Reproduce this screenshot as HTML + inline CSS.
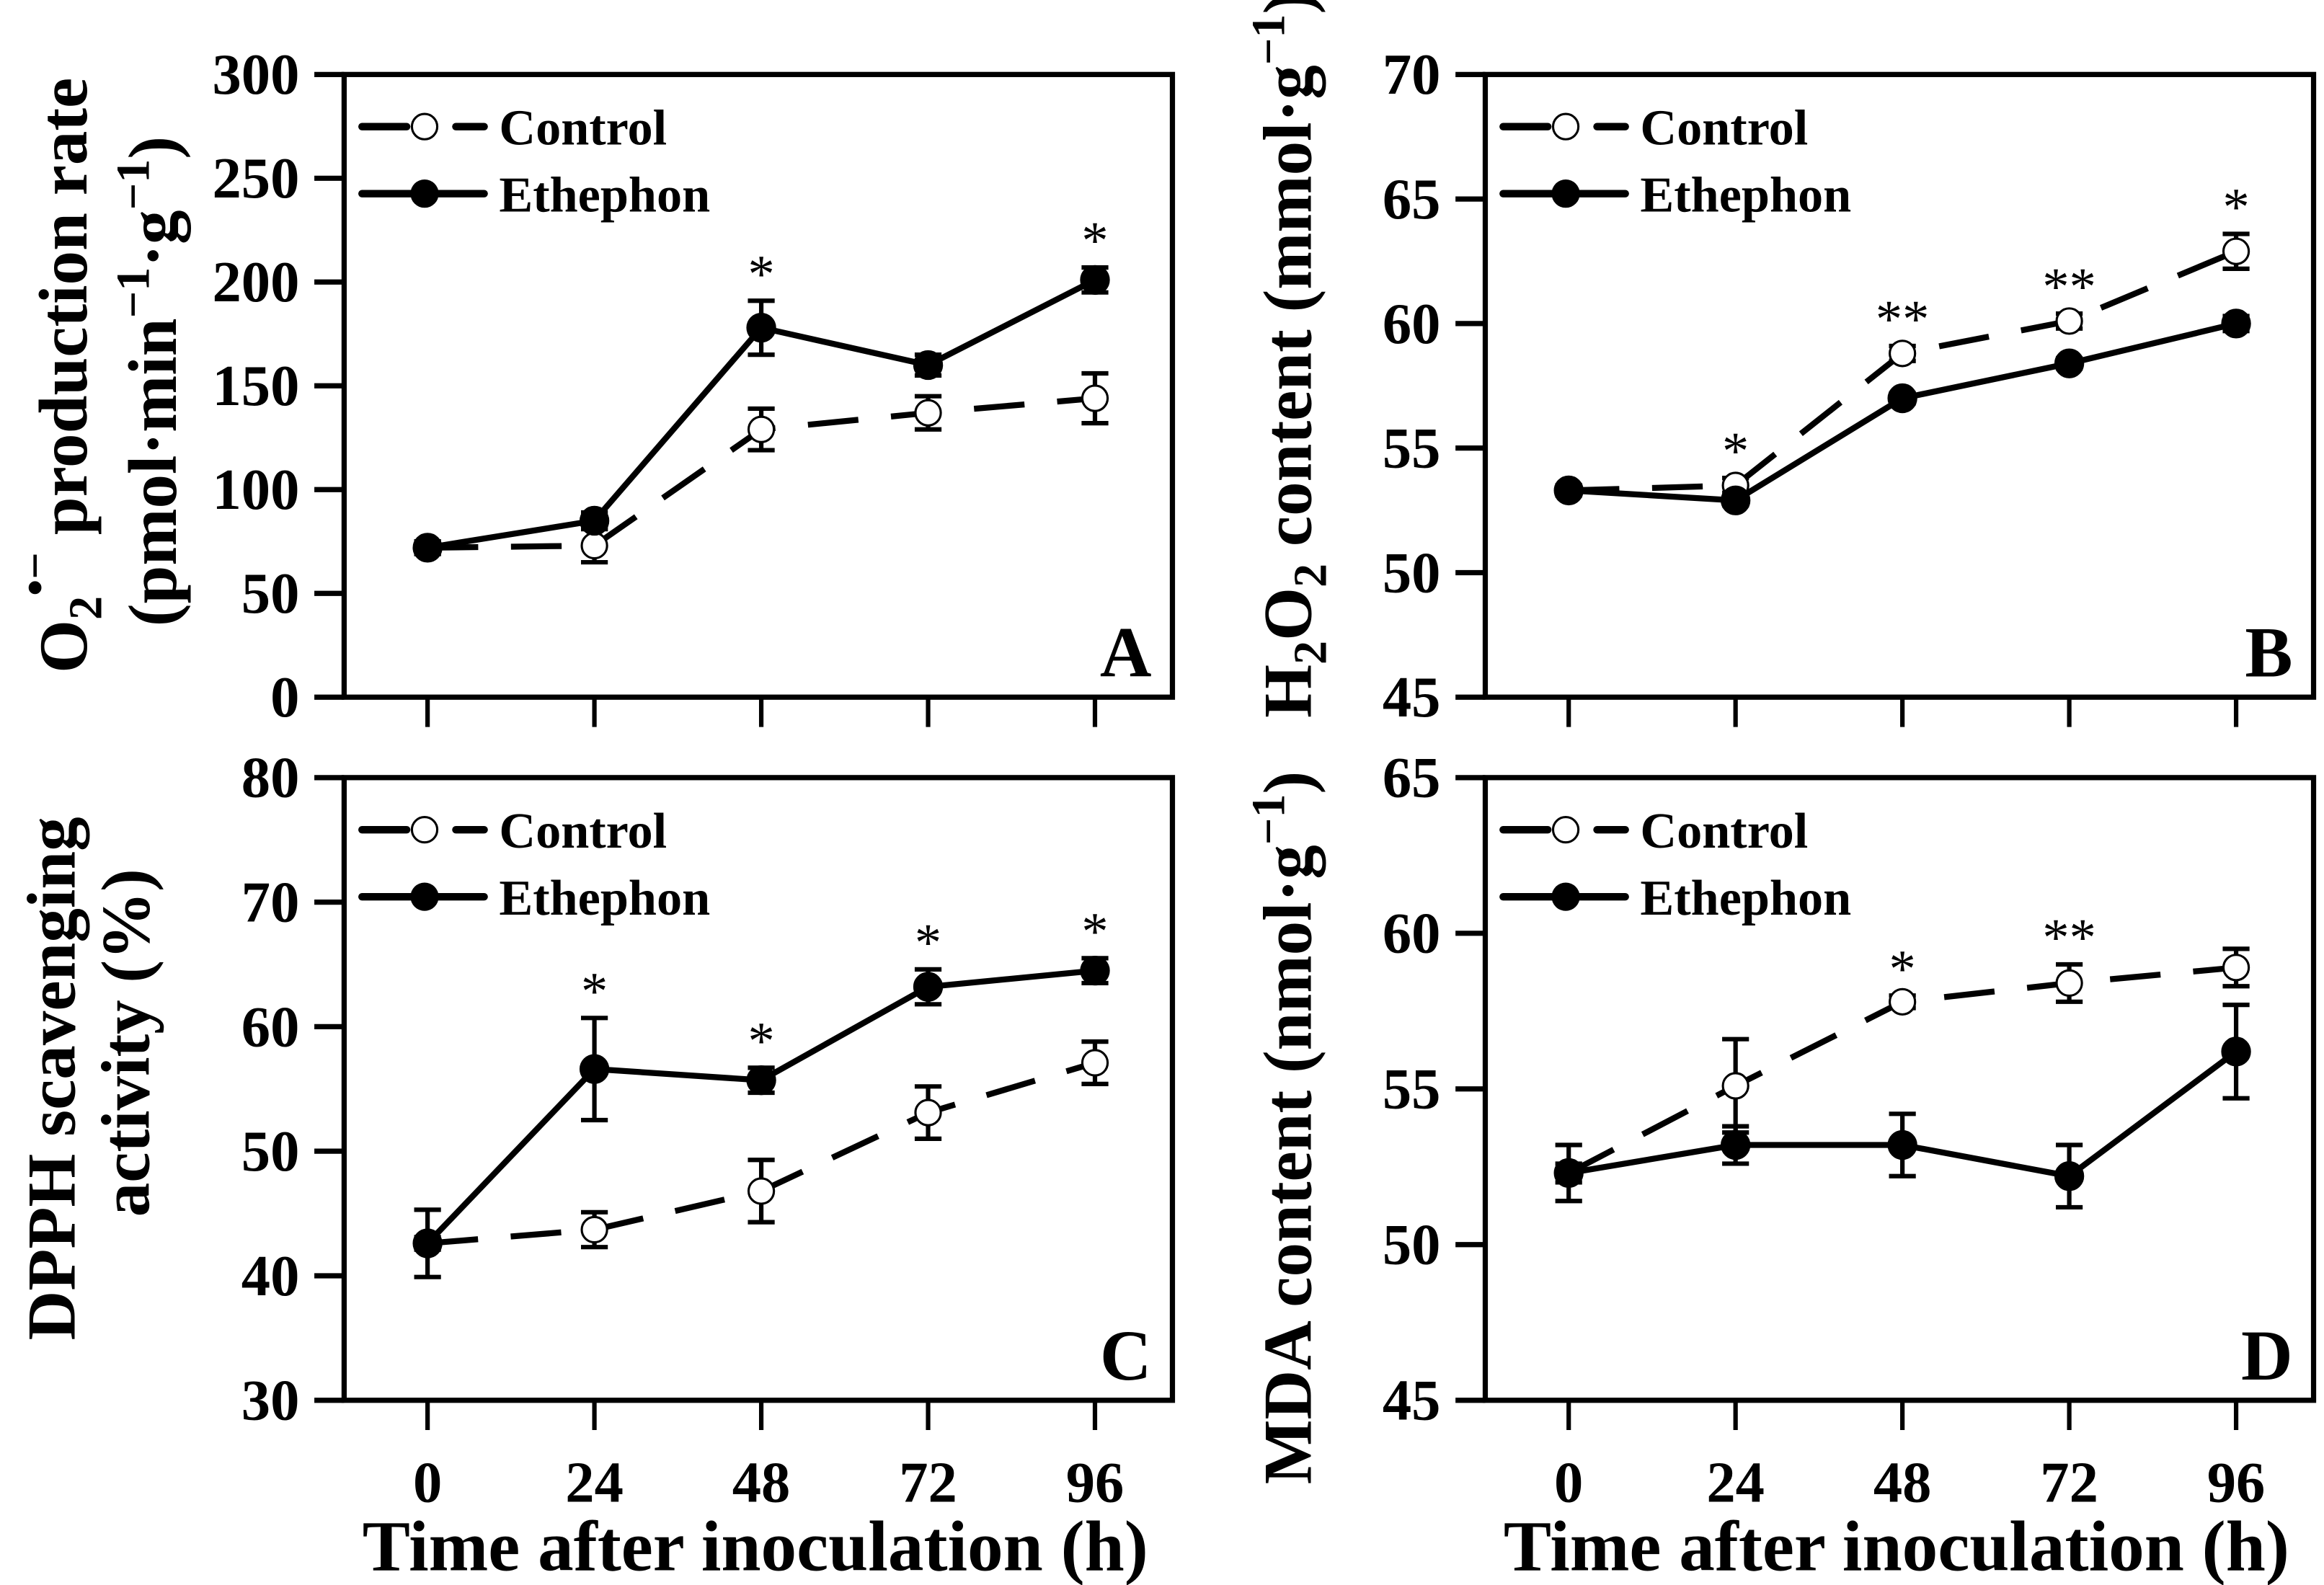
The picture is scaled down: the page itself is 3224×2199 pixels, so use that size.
<!DOCTYPE html>
<html><head><meta charset="utf-8"><style>
html,body{margin:0;padding:0;background:#fff;}
svg{display:block;}
text{font-family:"Liberation Serif",serif;font-weight:bold;fill:#000;}
</style></head><body>
<svg id="fig" width="3224" height="2199" viewBox="0 0 1560 1064" preserveAspectRatio="none" xmlns="http://www.w3.org/2000/svg"></svg>
<script>
const times = [0,24,48,72,96];
const xTickLabels = ["0","24","48","72","96"];
const aCtrl = [72,73,129,137,144];
const aCtrlErr = [3,8,10,8,12];
const aEth = [72,85,178,160,201];
const aEthErr = [3,4,13,5,6];
const aStars = ["","","*","","*"];
const aTicks = [0,50,100,150,200,250,300];
const bCtrl = [53.3,53.5,58.8,60.1,62.9];
const bCtrlErr = [0.2,0.3,0.3,0.3,0.7];
const bEth = [53.3,52.9,57.0,58.4,60.0];
const bEthErr = [0.2,0.2,0.2,0.2,0.3];
const bStars = ["","*","**","**","*"];
const bTicks = [45,50,55,60,65,70];
const cCtrl = [42.6,43.7,46.8,53.1,57.1];
const cCtrlErr = [0.5,1.4,2.5,2.1,1.7];
const cEth = [42.6,56.6,55.7,63.2,64.5];
const cEthErr = [2.7,4.1,1.0,1.4,1.0];
const cStars = ["","*","*","*","*"];
const cTicks = [30,40,50,60,70,80];
const dCtrl = [52.3,55.1,57.8,58.4,58.9];
const dCtrlErr = [0.3,1.5,0.2,0.6,0.6];
const dEth = [52.3,53.2,53.2,52.2,56.2];
const dEthErr = [0.9,0.6,1.0,1.0,1.5];
const dStars = ["","","*","**",""];
const dTicks = [45,50,55,60,65];

const NS="http://www.w3.org/2000/svg";
const svg=document.getElementById('fig');
function mk(tag,attrs,parent,txt){const e=document.createElementNS(NS,tag);for(const k in attrs)e.setAttribute(k,attrs[k]);if(txt!==undefined)e.textContent=txt;(parent||svg).appendChild(e);return e;}

function panel(id,L,T,R,B,ticks,ctrl,ctrlE,eth,ethE,stars,letter,showX){
  const g=mk('g',{});
  
  
  const ymin=ticks[0],ymax=ticks[ticks.length-1];
  const sy=v=>B-(v-ymin)/(ymax-ymin)*(B-T);
  const sx=t=>L+56+t/96*448;
  const box=mk('rect',{x:L,y:T,width:R-L,height:B-T,fill:'none',stroke:'#000','stroke-width':3.5},g);
  
  
  ticks.forEach(v=>{
    mk('line',{x1:L-20,x2:L,y1:sy(v),y2:sy(v),stroke:'#000','stroke-width':3.5},g);
    const t=mk('text',{x:L-30,y:sy(v)+13,'font-size':39,'text-anchor':'end'},g,String(v));
    
    
  });
  times.forEach((tm,i)=>{
    mk('line',{x1:sx(tm),x2:sx(tm),y1:B,y2:B+20,stroke:'#000','stroke-width':3},g);
    if(showX){const t=mk('text',{x:sx(tm),y:B+68,'font-size':39,'text-anchor':'middle'},g,xTickLabels[i]);
      
      }
  });
  if(showX){const t=mk('text',{x:(L+R)/2-2,y:B+114,'font-size':48,'text-anchor':'middle'},g,'Time after inoculation (h)');
    
    }
  function series(vals,errs,dashed,name){
    const pts=vals.map((v,i)=>sx(times[i])+','+sy(v)).join(' ');
    const pl=mk('polyline',{points:pts,fill:'none',stroke:'#000','stroke-width':4,'stroke-dasharray':dashed?'34,22':'none'},g);
    
    
    vals.forEach((v,i)=>{
      const x=sx(times[i]);
      const e1=sy(v+errs[i]),e2=sy(v-errs[i]);
      mk('line',{x1:x,x2:x,y1:e1,y2:e2,stroke:'#000','stroke-width':3},g);
      mk('line',{x1:x-9,x2:x+9,y1:e1,y2:e1,stroke:'#000','stroke-width':3},g);
      mk('line',{x1:x-9,x2:x+9,y1:e2,y2:e2,stroke:'#000','stroke-width':3},g);
      const c=mk('circle',{cx:x,cy:sy(v),r:dashed?8.5:9.5,fill:dashed?'#fff':'#000',stroke:'#000','stroke-width':dashed?1.5:1},g);
      
      
    });
  }
  series(ctrl,ctrlE,true,'control');
  series(eth,ethE,false,'ethephon');
  stars.forEach((s,i)=>{
    if(!s)return;
    const top=Math.max(ctrl[i]+ctrlE[i],eth[i]+ethE[i]);
    const t=mk('text',{x:sx(times[i]),y:sy(top)-6,'font-size':36,'text-anchor':'middle',style:'font-weight:normal'},g,s);
    
    
  });
  const lg=mk('g',{},g);
  
  
  const lx=L+12, ly1=T+35, ly2=T+80;
  mk('line',{x1:lx,x2:lx+30,y1:ly1,y2:ly1,stroke:'#000','stroke-width':5,'stroke-linecap':'round'},lg);
  mk('line',{x1:lx+63,x2:lx+82,y1:ly1,y2:ly1,stroke:'#000','stroke-width':5,'stroke-linecap':'round'},lg);
  mk('circle',{cx:lx+42,cy:ly1,r:8.5,fill:'#fff',stroke:'#000','stroke-width':1.5},lg);
  mk('text',{x:lx+92,y:ly1+12,'font-size':34},lg,'Control');
  mk('line',{x1:lx,x2:lx+82,y1:ly2,y2:ly2,stroke:'#000','stroke-width':5,'stroke-linecap':'round'},lg);
  mk('circle',{cx:lx+42,cy:ly2,r:9.5,fill:'#000'},lg);
  mk('text',{x:lx+92,y:ly2+12,'font-size':34},lg,'Ethephon');
  const pl=mk('text',{x:R-14,y:B-14,'font-size':48,'text-anchor':'end'},g,letter);
  
  
}
panel('a',231,50,787,468,aTicks,aCtrl,aCtrlErr,aEth,aEthErr,aStars,'A',false);
panel('b',997,50,1553,468,bTicks,bCtrl,bCtrlErr,bEth,bEthErr,bStars,'B',false);
panel('c',231,522,787,940,cTicks,cCtrl,cCtrlErr,cEth,cEthErr,cStars,'C',true);
panel('d',997,522,1553,940,dTicks,dCtrl,dCtrlErr,dEth,dEthErr,dStars,'D',true);

function ylab(x,y,html,name){
  const t=mk('text',{x:0,y:0,'font-size':46,'text-anchor':'middle',transform:`translate(${x},${y}) rotate(-90)`});
  t.innerHTML=html;
  
  
}
ylab(58,252,'O<tspan font-size="32" dy="10">2</tspan><tspan font-size="32" dy="-34">•−</tspan><tspan dy="24"> production rate</tspan>','y-axis-title-a-line1');
ylab(118,256,'(pmol·min<tspan font-size="32" dy="-18">−1</tspan><tspan dy="18">·g</tspan><tspan font-size="32" dy="-18">−1</tspan><tspan dy="18">)</tspan>','y-axis-title-a-line2');
ylab(880,238,'H<tspan font-size="32" dy="10">2</tspan><tspan dy="-10">O</tspan><tspan font-size="32" dy="10">2</tspan><tspan dy="-10"> content (mmol·g</tspan><tspan font-size="32" dy="-18">−1</tspan><tspan dy="18">)</tspan>','y-axis-title-b');
ylab(50,724,'DPPH scavenging','y-axis-title-c-line1');
ylab(100,700,'activity (%)','y-axis-title-c-line2');
ylab(880,757,'MDA content (nmol·g<tspan font-size="32" dy="-18">−1</tspan><tspan dy="18">)</tspan>','y-axis-title-d');
</script>
</body></html>
